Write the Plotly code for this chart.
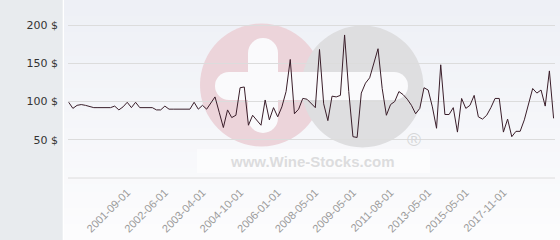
import plotly.graph_objects as go

# ---- data ----
prices = [99, 91, 95, 96, 95, 94, 92, 92, 92, 92,
          92, 94, 89, 93, 99, 92, 99, 92, 92, 92,
          92, 89, 89, 94, 90, 90, 90, 90, 90, 90,
          99, 90, 95, 90, 98, 106, 86, 66, 89, 79,
          82, 118, 119, 69, 82, 76, 69, 102, 76, 92,
          80, 93, 113, 155, 84, 90, 104, 103, 97, 92,
          168, 97, 75, 107, 106, 108, 187, 113, 54, 53,
          111, 124, 131, 150, 169, 117, 82, 96, 100, 113,
          109, 103, 95, 84, 91, 118, 115, 93, 65, 148,
          83, 83, 92, 60, 104, 91, 95, 108, 80, 77,
          82, 92, 104, 104, 60, 77, 54, 61, 61, 76,
          96, 117, 111, 115, 94, 140, 78]
x_index = list(range(len(prices)))
date_tick_pos = [14, 23, 32, 41, 50, 59, 68, 77, 86, 95, 104]
date_tick_labels = ["2001-09-01", "2002-06-01", "2003-04-01", "2004-10-01",
                    "2006-01-01", "2008-05-01", "2009-05-01", "2011-08-01",
                    "2013-05-01", "2015-05-01", "2017-11-01"]
price_ticks = [0, 50, 100, 150, 200]
price_tick_labels = ["", "50 $", "100 $", "150 $", "200 $"]

# ---- layout geometry (pixels) ----
W, H = 560, 240
L, R, T, B = 68, 555, 0, 178


def pxx(p):
    return (p - L) / (R - L)


def pxy(p):
    return (B - p) / (B - T)


shapes = []
# left grey band
shapes.append(dict(type="rect", xref="paper", yref="paper", layer="below",
                   x0=pxx(0), x1=pxx(62.7), y0=pxy(H), y1=pxy(0),
                   fillcolor="rgb(232,235,238)", line=dict(width=0)))
# vertical gradient background
nb = 30
top = (238, 240, 246)
bot = (252, 252, 253)
for i in range(nb):
    f = i / (nb - 1)
    c = tuple(round(top[k] + (bot[k] - top[k]) * f) for k in range(3))
    y0 = H * i / nb
    y1 = H * (i + 1) / nb + 0.6
    shapes.append(dict(type="rect", xref="paper", yref="paper", layer="below",
                       x0=pxx(64), x1=pxx(W), y0=pxy(y1), y1=pxy(y0),
                       fillcolor="rgb(%d,%d,%d)" % c, line=dict(width=0)))


def circle(cx, cy, r, color):
    return dict(type="circle", xref="paper", yref="paper", layer="below",
                x0=pxx(cx - r), x1=pxx(cx + r), y0=pxy(cy + r), y1=pxy(cy - r),
                fillcolor=color, line=dict(width=0))


def rect(x0, x1, y0, y1, color):
    return dict(type="rect", xref="paper", yref="paper", layer="below",
                x0=pxx(x0), x1=pxx(x1), y0=pxy(y1), y1=pxy(y0),
                fillcolor=color, line=dict(width=0))


pink = "rgb(236,212,218)"
grey = "rgb(222,222,224)"
white = "rgb(250,250,252)"
# watermark logo
shapes.append(circle(261.5, 85, 61.5, pink))
shapes.append(circle(362.5, 86.5, 61, grey))
# horizontal pill (minus / plus bar)
shapes.append(rect(229, 394, 72, 100, white))
shapes.append(circle(229, 86, 14, white))
shapes.append(circle(394, 86, 14, white))
# vertical pill of plus
shapes.append(rect(248, 278, 53, 118, white))
shapes.append(circle(263, 53, 15, white))
shapes.append(circle(263, 118, 15, white))
# light box behind watermark text
shapes.append(rect(197, 430, 149, 173, "rgba(255,255,255,0.55)"))
# baseline (0 $) grid line
shapes.append(dict(type="line", xref="paper", yref="paper", layer="below",
                   x0=0, x1=1, y0=0, y1=0, line=dict(color="#dcdcdc", width=1)))

fig = go.Figure(go.Scatter(x=x_index, y=prices, mode="lines",
                           line=dict(color="#3a1e2a", width=1),
                           hoverinfo="skip", showlegend=False))

fig.update_layout(
    width=W, height=H,
    margin=dict(l=L, r=W - R, t=T, b=H - B, pad=0),
    paper_bgcolor="white",
    plot_bgcolor="rgba(0,0,0,0)",
    shapes=shapes,
    showlegend=False,
    annotations=[
        dict(xref="paper", yref="paper", x=pxx(312), y=pxy(161),
             text="<b>www.Wine-Stocks.com</b>", showarrow=False,
             font=dict(family="Liberation Sans", size=15, color="rgb(220,220,222)"),
             xanchor="center", yanchor="middle"),
        dict(xref="paper", yref="paper", x=pxx(413.5), y=pxy(139),
             text="®", showarrow=False,
             font=dict(family="Liberation Sans", size=19, color="rgb(215,215,217)"),
             xanchor="center", yanchor="middle"),
    ],
)

fig.update_xaxes(
    range=[-0.17, 116.34],
    tickmode="array", tickvals=date_tick_pos, ticktext=date_tick_labels,
    tickangle=-45, showgrid=False, zeroline=False, showline=False,
    ticks="", ticklabelstandoff=5,
    tickfont=dict(family="Liberation Sans", size=11, color="#9a9a9a"),
    automargin=False, fixedrange=True,
)
fig.update_yaxes(
    range=[0, 232.7],
    tickmode="array", tickvals=price_ticks, ticktext=price_tick_labels,
    showgrid=True, gridcolor="#dcdcdc", gridwidth=1,
    zeroline=False, showline=False, ticks="", ticklabelstandoff=9,
    tickfont=dict(family="DejaVu Sans", size=11, color="#333333"),
    automargin=False, fixedrange=True,
)

fig.write_html("out.html", config={"displayModeBar": False})
